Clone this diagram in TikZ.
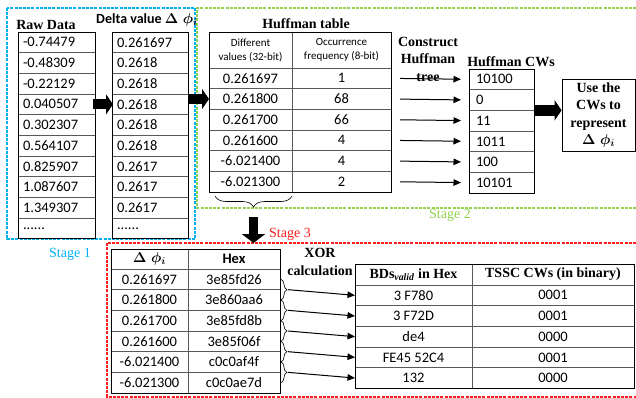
\documentclass[tikz,border=0pt]{standalone}
\usepackage{amsmath, amssymb}
\usepackage{fontspec}
\setmainfont{Carlito}
\newfontfamily\tnr{Liberation Serif}
\usepackage{xcolor}
\usepackage{tikz}
\usetikzlibrary{arrows.meta, calc, decorations.pathreplacing, positioning}

\definecolor{stageblue}{RGB}{0,176,240}
\definecolor{stagegreen}{RGB}{146,208,80}
\definecolor{stagered}{RGB}{255,30,30}
\newcommand{\dphi}{$\boldsymbol{\Delta\;\phi_i}$}
\newcommand{\moredots}{......}

\begin{document}
\begin{tikzpicture}[
  x=1pt, y=-1pt,
  cell/.style={draw=black!65, line width=0.7pt, minimum height=20.67pt, inner ysep=0pt, outer sep=0pt, font=\fontsize{14.5}{16}\selectfont},
  lcell/.style={cell, align=left, inner xsep=5pt, text width=#1},
  ccell/.style={cell, align=center, inner xsep=0pt, minimum width=#1},
  heading/.style={font=\tnr\bfseries\fontsize{14}{17.5}\selectfont, align=center, inner sep=0pt},
  stagelabel/.style={font=\tnr\fontsize{14}{15}\selectfont, inner sep=0pt},
  stage/.style={dash pattern=on 3pt off 1.2pt, line width=1.2pt},
  tabframe/.style={draw, line width=0.9pt},
  arrow/.style={-{Triangle[length=7.5pt, width=6.5pt]}, line width=1pt},
  bigarrow/.style={-{Triangle[length=7pt, width=20pt]}, line width=10pt}
]
\useasboundingbox (0,0) rectangle (636,398);

\draw[stage, stageblue] (7,8) rectangle (195,239);
\draw[stage, stagegreen] (636,8) -- (197,8) -- (197,208) -- (636,208);
\draw[stage, stagered] (636,243) -- (107,243) -- (107,397) -- (636,397);

\node[heading] (rawlabel) at (46,25) {Raw Data};
\coordinate (raw0) at (56.5,32);
\foreach \v [count=\i] in {-0.74479, -0.48309, -0.22129, 0.040507, 0.302307, 0.564107, 0.825907, 1.087607, 1.349307, \moredots} {
  \pgfmathtruncatemacro\j{\i-1}
  \node[lcell=67pt, below=0pt of raw\j] (raw\i) {\v};
}
\draw[tabframe] (raw1.north west) rectangle (raw10.south east);

\node[heading] (deltalabel) at (147,20) {\rmfamily Delta value \dphi};
\coordinate (delta0) at (150,32);
\foreach \v [count=\i] in {0.261697, 0.2618, 0.2618, 0.2618, 0.2618, 0.2618, 0.2617, 0.2617, 0.2617, \moredots} {
  \pgfmathtruncatemacro\j{\i-1}
  \node[lcell=66pt, below=0pt of delta\j] (delta\i) {\v};
}
\draw[tabframe] (delta1.north west) rectangle (delta10.south east);

\node[heading] (huftitle) at (306,24) {Huffman table};
\node[ccell=83pt, minimum height=36pt, font=\fontsize{11}{14}\selectfont] (hvalhead) at (250.5,50) {Different\\values (32-bit)};
\node[ccell=99pt, minimum height=36pt, font=\fontsize{11}{14}\selectfont, right=0pt of hvalhead] (hfreqhead) {Occurrence\\frequency (8-bit)};
\coordinate (hval0) at (hvalhead.south);
\foreach \a/\b [count=\i] in {0.261697/1, 0.261800/68, 0.261700/66, 0.261600/4, -6.021400/4, -6.021300/2} {
  \pgfmathtruncatemacro\j{\i-1}
  \node[ccell=83pt, below=0pt of hval\j] (hval\i) {\a};
  \node[ccell=99pt, right=0pt of hval\i] (hfreq\i) {\b};
}
\draw[tabframe] (hvalhead.north west) rectangle (hfreq6.south east);

\node[heading] (construct) at (428,59) {Construct\\Huffman\\tree};
\node[heading] (cwlabel) at (511,62) {Huffman CWs};
\coordinate (cw0) at (501.5,69);
\foreach \v [count=\i] in {10100, 0, 11, 1011, 100, 10101} {
  \pgfmathtruncatemacro\j{\i-1}
  \node[lcell=51pt, inner xsep=7pt, below=0pt of cw\j] (cw\i) {\v};
}
\draw[tabframe] (cw1.north west) rectangle (cw6.south east);
\foreach \i in {1,...,6}
  \draw[arrow, shorten <=9pt, shorten >=8pt] (hfreq\i.east) -- (cw\i.west);

\node[heading, draw, line width=0.8pt, minimum width=73pt, minimum height=72pt] (use) at (598.5,115) {Use the\\CWs to\\represent\\\dphi};

\draw[bigarrow] ([xshift=-2pt]raw4.east) -- ([xshift=1pt]delta4.west);
\draw[bigarrow] (delta4.east |- hval2.west) -- (hval2.west);
\draw[bigarrow, line width=11pt] (cw2.south east) -- (cw2.south east -| use.west);

\draw[decorate, decoration={brace, mirror, amplitude=11pt}, line width=0.6pt] ([xshift=6pt, yshift=-4pt]hval6.south west) -- ([yshift=-4pt]hval6.south east);
\coordinate (bracetip) at (253.5,210);
\coordinate (stagetop) at (253.5,243);
\draw[bigarrow, line width=9pt, -{Triangle[length=9pt, width=23pt]}] ([yshift=-7pt]bracetip) -- (stagetop);

\node[stagelabel, text=stageblue] (stage1) at (70,254) {Stage 1};
\node[stagelabel, text=stagegreen] (stage2) at (450,215) {Stage 2};
\node[stagelabel, text=stagered] (stage3) at (290,234) {Stage 3};

\node[ccell=77pt, minimum height=20pt, font=\tnr\bfseries\fontsize{14}{15}\selectfont] (s3head) at (149.5,259) {\dphi};
\node[ccell=92pt, minimum height=20pt, font=\bfseries\fontsize{14.5}{15}\selectfont, right=0pt of s3head] (hexhead) {Hex};
\coordinate (s3val0) at (s3head.south);
\foreach \a/\b [count=\i] in {0.261697/3e85fd26, 0.261800/3e860aa6, 0.261700/3e85fd8b, 0.261600/3e85f06f, -6.021400/c0c0af4f, -6.021300/c0c0ae7d} {
  \pgfmathtruncatemacro\j{\i-1}
  \node[ccell=77pt, below=0pt of s3val\j] (s3val\i) {\a};
  \node[ccell=92pt, right=0pt of s3val\i] (hex\i) {\b};
}
\draw[tabframe] (s3head.north west) rectangle (hex6.south east);

\node[heading] (xor) at (320,262) {XOR\\calculation};

\node[ccell=117pt, minimum height=21pt, font=\tnr\bfseries\fontsize{14}{15}\selectfont] (bdhead) at (413.5,274.5) {BDs\textsubscript{\textit{valid}} in Hex};
\node[ccell=162pt, minimum height=21pt, font=\tnr\bfseries\fontsize{14}{15}\selectfont, right=0pt of bdhead] (tsschead) {TSSC CWs (in binary)};
\coordinate (bd0) at (bdhead.south);
\foreach \a/\b [count=\i] in {3 F780/0001, 3 F72D/0001, de4/0000, FE45 52C4/0001, 132/0000} {
  \pgfmathtruncatemacro\j{\i-1}
  \node[ccell=117pt, below=0pt of bd\j] (bd\i) {\a};
  \node[ccell=162pt, right=0pt of bd\i] (tssc\i) {\b};
}
\draw[tabframe] (bdhead.north west) rectangle (tssc5.south east);

\foreach \i in {1,...,5} {
  \pgfmathtruncatemacro\j{\i+1}
  \draw[decorate, decoration={brace, amplitude=6pt}, line width=0.6pt] ([xshift=1pt]hex\i.east) -- ([xshift=1pt]hex\j.east);
  \draw[arrow] ($(hex\i.east)!0.5!(hex\j.east)+(8,0)$) -- (bd\i.west);
}
\end{tikzpicture}
\end{document}
